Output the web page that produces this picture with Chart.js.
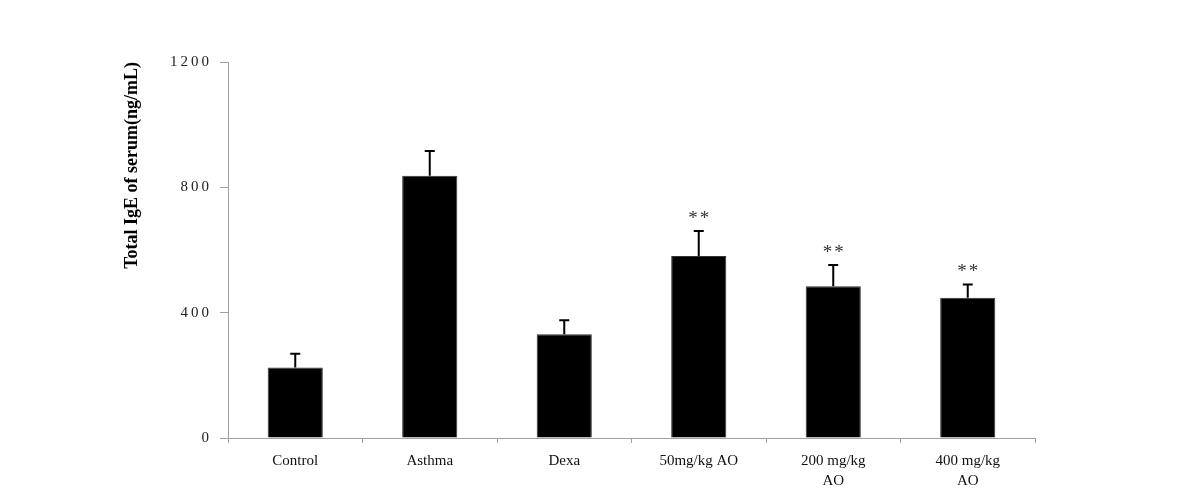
<!DOCTYPE html>
<html>
<head>
<meta charset="utf-8">
<script src="https://cdn.jsdelivr.net/npm/chart.js@4.4.1/dist/chart.umd.min.js"></script>
<style>
    html, body { margin: 0; padding: 0; background: #fff; }
    #wrap { width: 1177px; height: 499px; }
</style>
</head>
<body>
<div id="wrap"><canvas id="igeChart"></canvas></div>
<script>
const groups = ['Control', 'Asthma', 'Dexa', '50mg/kg AO', ['200 mg/kg', 'AO'], ['400 mg/kg', 'AO']];
const igeMean = [225, 837, 331, 581, 484, 448];
const igeErr = [44, 79, 45, 80, 68, 42];
const marks = ['', '', '', '**', '**', '**'];
const yTicks = [0, 400, 800, 1200];

const serif = '"Liberation Serif", "Times New Roman", serif';

// upward error bars plus the significance stars above them
const errorBars = {
    id: 'errorBars',
    afterDatasetsDraw(chart) {
        const { ctx, scales: { x, y } } = chart;
        ctx.save();
        ctx.strokeStyle = '#000';
        ctx.lineWidth = 2;
        igeMean.forEach((v, i) => {
            const cx = x.getPixelForValue(i);
            const top = y.getPixelForValue(v + igeErr[i]);
            ctx.beginPath();
            ctx.moveTo(cx, y.getPixelForValue(v));
            ctx.lineTo(cx, top);
            ctx.moveTo(cx - 5, top);
            ctx.lineTo(cx + 5, top);
            ctx.stroke();
            if (marks[i]) {
                ctx.fillStyle = '#333';
                ctx.font = '19px ' + serif;
                ctx.letterSpacing = '2px';
                ctx.textAlign = 'center';
                ctx.textBaseline = 'alphabetic';
                ctx.fillText(marks[i], cx + 1, top - 7);
            }
        });
        ctx.restore();
    },
    beforeDraw(chart) {
        // the y tick numbers are spread out in the original
        const ys = chart.scales.y;
        if (ys && !ys._spaced) {
            const orig = ys.drawLabels;
            ys.drawLabels = function (area) {
                const c = this.ctx;
                c.save();
                c.letterSpacing = '3px';
                orig.call(this, area);
                c.restore();
            };
            ys._spaced = true;
        }
    }
};

new Chart(document.getElementById('igeChart'), {
    type: 'bar',
    data: {
        labels: groups,
        datasets: [{
            data: igeMean,
            backgroundColor: '#000',
            borderColor: '#333',
            borderWidth: 1,
            barPercentage: 0.41,
            categoryPercentage: 1
        }]
    },
    options: {
        responsive: true,
        maintainAspectRatio: false,
        animation: false,
        layout: { padding: { left: 110, right: 142, top: 62, bottom: 0 } },
        plugins: {
            legend: { display: false },
            tooltip: { enabled: false }
        },
        scales: {
            x: {
                grid: { drawOnChartArea: false, tickLength: 5, color: '#a0a0a0', offset: true },
                border: { color: '#a0a0a0', width: 1 },
                ticks: {
                    color: '#111',
                    font: { family: serif, size: 15, lineHeight: 1.35 },
                    padding: 8,
                    maxRotation: 0,
                    autoSkip: false
                },
                afterFit(scale) { scale.height = 61; }
            },
            y: {
                min: 0,
                max: 1200,
                afterBuildTicks(scale) { scale.ticks = yTicks.map(v => ({ value: v })); },
                grid: { drawOnChartArea: false, tickLength: 8, color: '#a0a0a0' },
                border: { color: '#a0a0a0', width: 1 },
                ticks: {
                    color: '#222',
                    font: { family: serif, size: 15 },
                    padding: 8,
                    callback: v => String(v)
                },
                title: {
                    display: true,
                    text: 'Total IgE of serum(ng/mL)',
                    align: 'end',
                    color: '#000',
                    font: { family: serif, size: 18, weight: 'bold' },
                    padding: { top: 12, bottom: 0 }
                },
                afterFit(scale) { scale.width = 118; }
            }
        }
    },
    plugins: [errorBars]
});
</script>
</body>
</html>
